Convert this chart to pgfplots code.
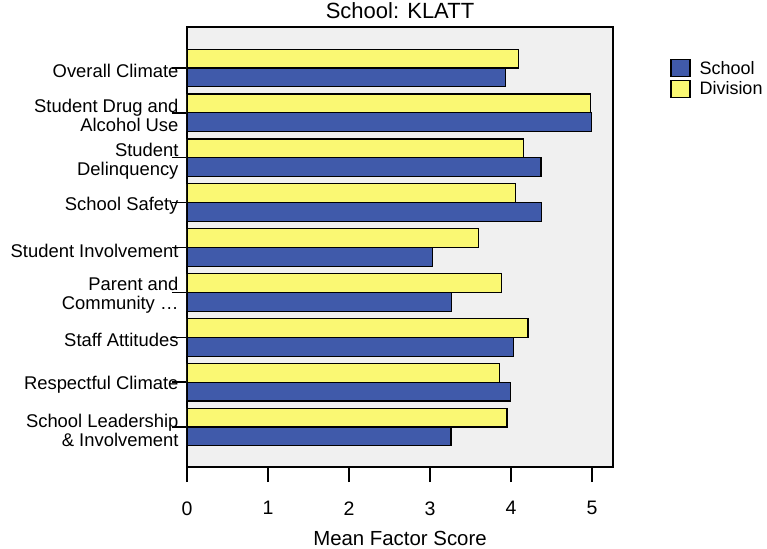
\documentclass[border=0pt]{standalone}
\usepackage{pgfplots}
\pgfplotsset{compat=1.18}
\usepackage{fontspec}
\setmainfont{Liberation Sans}
\definecolor{schoolblue}{RGB}{64,90,170}
\definecolor{divyellow}{RGB}{250,248,115}
\definecolor{plotbg}{RGB}{240,240,240}
\pgfplotsset{mylegend/.style={legend image code/.code={\draw[##1] (0pt,-8.5pt) rectangle (19pt,8.5pt);}}}
\begin{document}
\begin{tikzpicture}
\path[use as bounding box] (-187pt,-81pt) rectangle (580pt,467pt);
\begin{axis}[
  at={(0pt,0pt)}, anchor=south west,
  scale only axis, width=426pt, height=440pt,
  xmin=0, xmax=5.26, ymin=-0.891, ymax=8.914,
  axis background/.style={fill=plotbg},
  axis line style={line width=1.2pt},
  xtick={0,1,2,3,4,5}, ytick={0,1,2,3,4,5,6,7,8},
  yticklabels={{School Leadership\\\& Involvement}, Respectful Climate, Staff Attitudes, {Parent and\\Community …}, Student Involvement, School Safety, {Student\\Delinquency}, {Student Drug and\\Alcohol Use}, Overall Climate},
  /pgf/number format/assume math mode=true,
  tick align=outside, major tick length=15pt,
  tick style={black, line width=1.3pt},
  xtick pos=left, ytick pos=left,
  minor tick num=0,
  x tick label style={font=\fontsize{19.5}{20}\selectfont, yshift=-16pt},
  y tick label style={font=\fontsize{18.4}{19}\selectfont, align=right, xshift=10pt, yshift=-3pt},
  xlabel={Mean Factor Score},
  xlabel style={font=\fontsize{20.4}{22}\selectfont, at={(axis description cs:0.5,0)}, anchor=base, yshift=-78pt},
  title={School: KLATT},
  title style={font=\fontsize{22}{24}\selectfont, at={(axis description cs:0.5,1)}, anchor=base, yshift=2pt},
  legend style={at={(axis description cs:1.127,0.932)}, anchor=north west, draw=none, fill=none, font=\fontsize{18}{20}\selectfont, row sep=2pt, nodes={inner xsep=9pt}},
  legend cell align=left,
]
% categories from bottom (0) to top (8)
\addplot[xbar, bar width=0.42, bar shift=-0.21, fill=schoolblue, draw=black, line width=1.2pt, mylegend]
  coordinates {(3.26,0) (3.99,1) (4.03,2) (3.27,3) (3.03,4) (4.38,5) (4.37,6) (4.99,7) (3.93,8)};
\addlegendentry{School}
\addplot[xbar, bar width=0.42, bar shift=0.21, fill=divyellow, draw=black, line width=1.2pt, mylegend]
  coordinates {(3.95,0) (3.86,1) (4.21,2) (3.88,3) (3.60,4) (4.06,5) (4.15,6) (4.98,7) (4.095,8)};
\addlegendentry{Division}
\end{axis}
\end{tikzpicture}
\end{document}
